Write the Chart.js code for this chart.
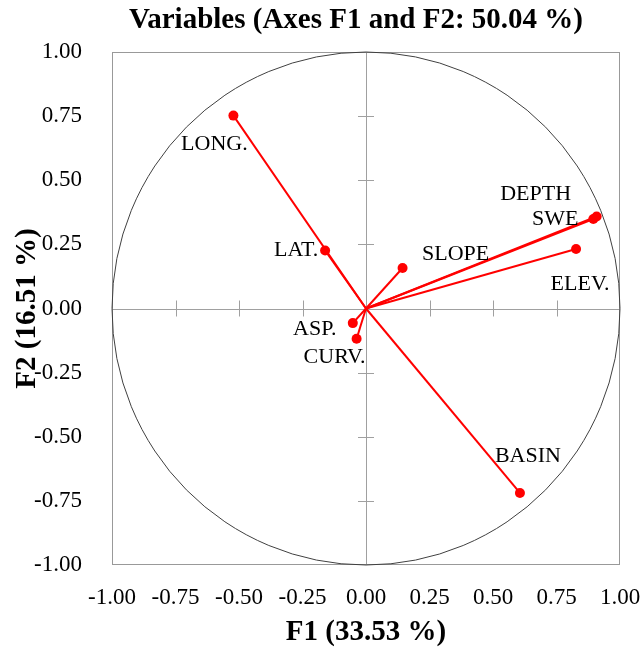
<!DOCTYPE html>
<html>
<head>
<meta charset="utf-8">
<script src="https://cdn.jsdelivr.net/npm/chart.js@4.4.1/dist/chart.umd.min.js"></script>
<style>
  html, body { margin: 0; padding: 0; background: #fff; }
  #wrap { width: 643px; height: 652px; }
</style>
</head>
<body>
<div id="wrap"><canvas id="pca"></canvas></div>
<script>
// variable loadings on F1 / F2
const varNames = ["LONG.", "LAT.", "SLOPE", "DEPTH", "SWE", "ELEV.", "ASP.", "CURV.", "BASIN"];
const f1Values = [-0.522, -0.161, 0.144, 0.908, 0.895, 0.827, -0.052, -0.037, 0.606];
const f2Values = [0.752, 0.226, 0.158, 0.359, 0.349, 0.232, -0.057, -0.118, -0.719];
const tickValues = [-1, -0.75, -0.5, -0.25, 0, 0.25, 0.5, 0.75, 1];
const chartTitle = 'Variables (Axes F1 and F2: 50.04 %)';

// label offsets in px from the marker (text centre)
var labelOffset = {
  "LONG.": [-19, 27], "LAT.": [-29, -2], "SLOPE": [53, -15],
  "DEPTH": [-61, -23], "SWE": [-38, -1], "ELEV.": [4, 34],
  "ASP.": [-38, 5], "CURV.": [-22, 17], "BASIN": [8, -38]
};

var serif = "'Liberation Serif', 'Times New Roman', serif";

var datasets = varNames.map(function (n, i) {
  return {
    label: n,
    data: [{x: 0, y: 0}, {x: f1Values[i], y: f2Values[i]}],
    showLine: true,
    borderColor: '#ff0000',
    backgroundColor: '#ff0000',
    borderWidth: 2,
    pointRadius: [0, 5],
    pointHoverRadius: [0, 5],
    pointBorderWidth: 0
  };
});

var frame = {
  id: 'frame',
  beforeDatasetsDraw: function (chart) {
    var c = chart.ctx, a = chart.chartArea;
    var xs = chart.scales.x, ys = chart.scales.y;
    var x0 = xs.getPixelForValue(0), y0 = ys.getPixelForValue(0);
    c.save();
    // centre axes with cross ticks
    c.strokeStyle = '#a0a0a0';
    c.lineWidth = 1;
    c.beginPath();
    c.moveTo(a.left, Math.round(y0) + 0.5); c.lineTo(a.right, Math.round(y0) + 0.5);
    c.moveTo(Math.round(x0) + 0.5, a.top); c.lineTo(Math.round(x0) + 0.5, a.bottom);
    tickValues.forEach(function (t) {
      if (t === 0 || Math.abs(t) === 1) return;
      var px = Math.round(xs.getPixelForValue(t)) + 0.5;
      var py = Math.round(ys.getPixelForValue(t)) + 0.5;
      c.moveTo(px, y0 - 8); c.lineTo(px, y0 + 8);
      c.moveTo(x0 - 8, py); c.lineTo(x0 + 8, py);
    });
    c.stroke();
    // box
    c.strokeStyle = '#999999';
    c.strokeRect(a.left + 0.5, a.top + 0.5, a.right - a.left - 1, a.bottom - a.top - 1);
    // correlation circle
    var rx = xs.getPixelForValue(1) - x0, ry = y0 - ys.getPixelForValue(1);
    c.strokeStyle = '#404040';
    c.beginPath();
    c.ellipse(x0, y0, rx, ry, 0, 0, Math.PI * 2);
    c.stroke();
    c.restore();
  },
  afterDatasetsDraw: function (chart) {
    var c = chart.ctx;
    var xs = chart.scales.x, ys = chart.scales.y;
    c.save();
    c.font = '22px ' + serif;
    c.fillStyle = '#000';
    c.textAlign = 'center';
    c.textBaseline = 'alphabetic';
    varNames.forEach(function (n, i) {
      var off = labelOffset[n];
      var px = xs.getPixelForValue(f1Values[i]) + off[0];
      var py = ys.getPixelForValue(f2Values[i]) + off[1];
      c.fillText(n, px, py + 7);
    });
    // chart title
    c.font = 'bold 29px ' + serif;
    c.fillText(chartTitle, 356, 28);
    c.restore();
  }
};

new Chart('pca', {
  type: 'scatter',
  data: { datasets: datasets },
  options: {
    responsive: true,
    maintainAspectRatio: false,
    animation: false,
    layout: { padding: { left: 0, right: 23, top: 52, bottom: 0 } },
    plugins: {
      legend: { display: false },
      tooltip: { enabled: false },
      title: { display: false }
    },
    scales: {
      x: {
        min: -1, max: 1,
        afterFit: function (s) { s.height = 87; s.paddingRight = 0; s.paddingLeft = 0; },
        afterBuildTicks: function (s) { s.ticks = tickValues.map(function (v) { return {value: v}; }); },
        grid: { display: false },
        border: { display: false },
        ticks: {
          color: '#000',
          padding: 11,
          maxRotation: 0,
          autoSkip: false,
          font: { family: serif, size: 23 },
          callback: function (v) { return v.toFixed(2); }
        },
        title: {
          display: true,
          text: 'F1 (33.53 %)',
          color: '#000',
          font: { family: serif, size: 29, weight: 'bold' },
          padding: { top: 0, bottom: 2 }
        }
      },
      y: {
        min: -1, max: 1,
        afterFit: function (s) { s.width = 112; },
        afterBuildTicks: function (s) { s.ticks = tickValues.map(function (v) { return {value: v}; }); },
        grid: { display: false },
        border: { display: false },
        ticks: {
          color: '#000',
          padding: 22,
          autoSkip: false,
          font: { family: serif, size: 23 },
          callback: function (v) { return v.toFixed(2); }
        },
        title: {
          display: true,
          text: 'F2 (16.51 %)',
          color: '#000',
          font: { family: serif, size: 29, weight: 'bold' },
          padding: { top: 10, bottom: 0 }
        }
      }
    }
  },
  plugins: [frame]
});
</script>
</body>
</html>
